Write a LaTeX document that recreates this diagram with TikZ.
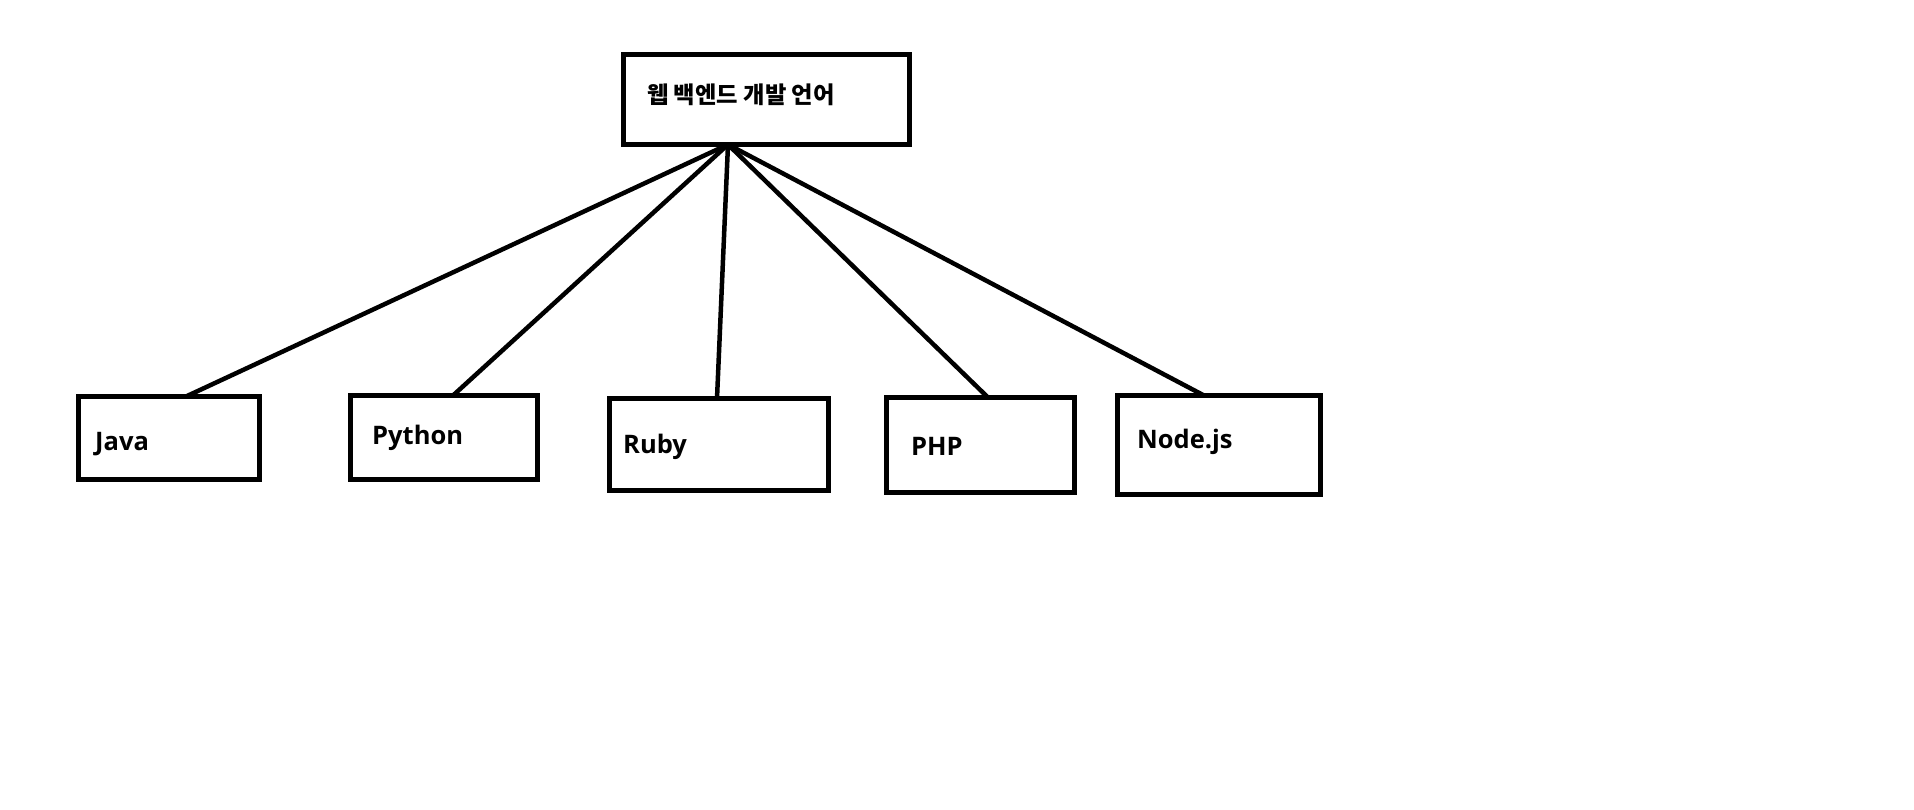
\documentclass[tikz,border=0pt]{standalone}
\usepackage{fontspec}
\setmainfont{Open Sans}
\newfontfamily\krfont{Noto Sans CJK KR}
\begin{document}
\begin{tikzpicture}[x=1pt,y=-1pt,
  box/.style={draw,line width=5pt,rectangle,inner sep=0pt,outer sep=0pt,anchor=north west},
  lbl/.style={anchor=base west,inner sep=0pt,font=\fontsize{25.5}{30}\selectfont\bfseries},
  link/.style={line width=4.5pt}]
\useasboundingbox (0,0) rectangle (1914,810);
% boxes: (left,top) with width/height
\node[box,minimum width=286pt,minimum height=90pt] (top) at (623.5,54.5) {};
\node[box,minimum width=181pt,minimum height=83pt] (java) at (78.5,396.5) {};
\node[box,minimum width=187pt,minimum height=84pt] (python) at (350.5,395.5) {};
\node[box,minimum width=219pt,minimum height=92pt] (ruby) at (609.5,398.5) {};
\node[box,minimum width=188pt,minimum height=95pt] (php) at (886.5,397.5) {};
\node[box,minimum width=203pt,minimum height=99pt] (node) at (1117.5,395.5) {};
% labels
\node[anchor=base west,inner sep=0pt,font=\krfont\fontsize{23.3}{27}\selectfont\bfseries] (ttop) at (647,104) {웹 백엔드 개발 언어};
\node[lbl] (tjava) at (95,450) {Java};
\node[lbl] (tpython) at (372,444) {Python};
\node[lbl] (truby) at (623,453) {Ruby};
\node[lbl] (tphp) at (911,455) {PHP};
\node[lbl] (tnode) at (1137,448) {Node.js};
% connectors
\coordinate (hub) at ([xshift=104.5pt]top.south west);
\draw[link] (hub) -- ([xshift=107.5pt]java.north west);
\draw[link] (hub) -- ([xshift=102.5pt]python.north west);
\draw[link] (hub) -- ([xshift=107.5pt]ruby.north west);
\draw[link] (hub) -- ([xshift=101.5pt]php.north west);
\draw[link] (hub) -- ([xshift=86.5pt]node.north west);
\end{tikzpicture}
\end{document}
